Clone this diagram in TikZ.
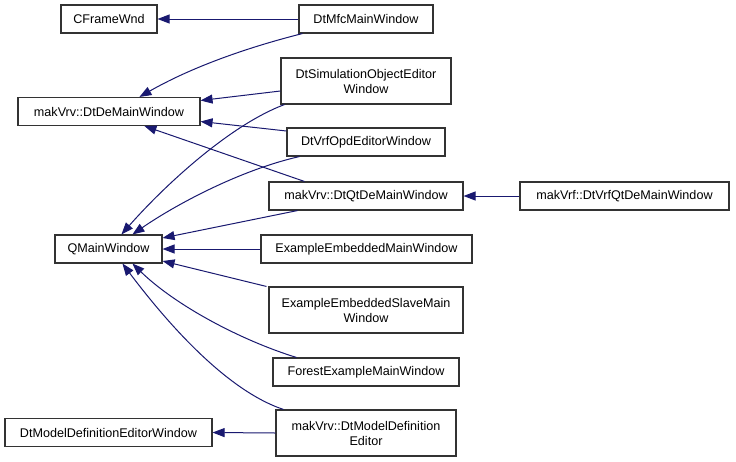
\documentclass[tikz,border=0pt]{standalone}
\usepackage{fontspec}
\setmainfont{Liberation Sans}
\usetikzlibrary{arrows.meta}
\definecolor{edgeblue}{HTML}{191970}
\tikzset{
  cls/.style={draw=black!80, line width=1.1pt, fill=white, inner sep=0pt, minimum height=28pt, align=center, font=\fontsize{12.6}{15}\selectfont},
  edge/.style={draw=edgeblue, line width=1pt, -{Triangle[length=12pt,width=9pt,fill=edgeblue]}}
}
\begin{document}
\begin{tikzpicture}[x=1pt,y=-1pt]
\useasboundingbox[fill=white] (0,0) rectangle (736,461);
% nodes
\node[cls, minimum width=96pt] (cfw) at (109,19) {CFrameWnd};
\node[cls, minimum width=134pt] (mfc) at (366,19) {DtMfcMainWindow};
\node[cls, minimum width=182pt] (dem) at (109,111.5) {makVrv::DtDeMainWindow};
\node[cls, minimum width=170pt, minimum height=46pt] (sim) at (366,81) {DtSimulationObjectEditor\\Window};
\node[cls, minimum width=158pt] (opd) at (366,142) {DtVrfOpdEditorWindow};
\node[cls, minimum width=194pt] (qtde) at (366,196) {makVrv::DtQtDeMainWindow};
\node[cls, minimum width=209pt] (vrfqt) at (624.5,196) {makVrf::DtVrfQtDeMainWindow};
\node[cls, minimum width=107pt] (qmw) at (108.5,249) {QMainWindow};
\node[cls, minimum width=211pt] (eemw) at (366.5,249) {ExampleEmbeddedMainWindow};
\node[cls, minimum width=194pt, minimum height=46pt] (eesm) at (366,310) {ExampleEmbeddedSlaveMain\\Window};
\node[cls, minimum width=186pt] (forest) at (366,372) {ForestExampleMainWindow};
\node[cls, minimum width=180pt, minimum height=46pt] (mde) at (366,433) {makVrv::DtModelDefinition\\Editor};
\node[cls, minimum width=207pt] (mdew) at (108.5,432.5) {DtModelDefinitionEditorWindow};
% edges
\draw[edge] (mfc.west) -- (cfw.east);
\draw[edge] ([xshift=4pt]mfc.south west) .. controls (245,48) and (190,68) .. ([xshift=122pt]dem.north west);
\draw[edge] ([yshift=-10pt]sim.west) -- ([yshift=11pt]dem.east);
\draw[edge] ([yshift=11pt]opd.west) -- ([yshift=-10pt]dem.east);
\draw[edge] ([xshift=36pt]qtde.north west) -- ([xshift=127pt]dem.south west);
\draw[edge] ([xshift=4pt]sim.south west) .. controls (230,125) and (165,185) .. ([xshift=67pt]qmw.north west);
\draw[edge] ([xshift=13pt]opd.south west) .. controls (240,170) and (175,205) .. ([xshift=78pt]qmw.north west);
\draw[edge] ([xshift=29pt]qtde.south west) -- ([yshift=11pt]qmw.east);
\draw[edge] (eemw.west) -- (qmw.east);
\draw[edge] ([xshift=-2pt]eesm.north west) -- ([yshift=-12pt]qmw.east);
\draw[edge] ([xshift=24pt]forest.north west) .. controls (240,340) and (175,305) .. ([xshift=78pt]qmw.south west);
\draw[edge] ([xshift=8pt]mde.north west) .. controls (225,390) and (165,320) .. ([xshift=68pt]qmw.south west);
\draw[edge] (mde.west) -- (mdew.east);
\draw[edge] (vrfqt.west) -- (qtde.east);
\end{tikzpicture}
\end{document}
